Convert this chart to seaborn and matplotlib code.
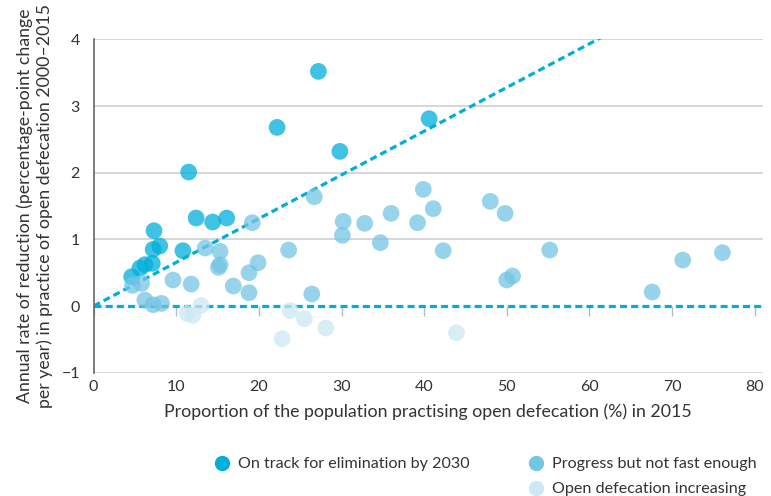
import pandas as pd
import matplotlib.pyplot as plt
import seaborn as sns
from matplotlib.lines import Line2D

# Punkte je Kategorie (x = Anteil 2015 in %, y = jährliche Reduktionsrate)
on_track_x = [27.2, 22.2, 29.8, 40.6, 11.5, 7.3, 8.0, 7.2, 10.8, 12.4, 14.4, 16.1, 7.1, 6.2, 5.6, 4.6]
on_track_y = [3.52, 2.68, 2.32, 2.81, 2.01, 1.13, 0.90, 0.85, 0.83, 1.32, 1.26, 1.32, 0.64, 0.62, 0.57, 0.44]

progress_x = [19.2, 13.5, 15.3, 15.1, 15.3, 19.9, 18.8, 16.9, 18.8, 9.6, 11.8, 5.8, 4.7, 6.2, 7.2, 8.2,
              23.6, 26.7, 26.4, 30.2, 30.1, 32.8, 34.7, 36.0, 39.2, 39.9, 41.1, 42.3, 48.0, 49.8,
              50.0, 50.7, 55.2, 67.6, 71.3, 76.1]
progress_y = [1.25, 0.87, 0.82, 0.58, 0.62, 0.65, 0.50, 0.30, 0.20, 0.39, 0.33, 0.34, 0.31, 0.09, 0.02, 0.04,
              0.84, 1.64, 0.18, 1.27, 1.06, 1.24, 0.95, 1.39, 1.25, 1.75, 1.46, 0.83, 1.57, 1.39,
              0.39, 0.45, 0.84, 0.21, 0.69, 0.80]

increasing_x = [11.3, 12.0, 13.0, 23.8, 25.5, 28.1, 22.8, 43.9]
increasing_y = [-0.11, -0.14, 0.01, -0.07, -0.19, -0.33, -0.49, -0.40]

labels = ['On track for elimination by 2030', 'Progress but not fast enough', 'Open defecation increasing']
colors = ['#00AEDB', '#74C5E3', '#CDE8F3']
x_ticks = [0, 10, 20, 30, 40, 50, 60, 70, 80]
y_ticks = [-1, 0, 1, 2, 3, 4]

df = pd.concat([
    pd.DataFrame({'x': on_track_x, 'y': on_track_y, 'group': labels[0]}),
    pd.DataFrame({'x': progress_x, 'y': progress_y, 'group': labels[1]}),
    pd.DataFrame({'x': increasing_x, 'y': increasing_y, 'group': labels[2]}),
])

sns.set_style('white')
plt.rcParams['font.family'] = ['Lato', 'DejaVu Sans']
TXT = '#333333'

fig = plt.figure(figsize=(7.71, 4.96), dpi=100)
ax = fig.add_axes([0.1215, 0.2486, 0.868, 0.672])

# Gitterlinien
for yv in y_ticks:
    if yv != 0:
        ax.axhline(yv, color='#d0d0d0', lw=1.2, zorder=0)

# Ziellinie (Elimination bis 2030) und Nulllinie
line_x = [0, 61.5]
ax.plot(line_x, [v / 15.25 for v in line_x], color='#00AEDB', lw=2.3, dashes=(2.2, 1.3), zorder=1)
ax.plot([0, 81], [0, 0], color='#00AEDB', lw=2.3, dashes=(2.2, 1.3), zorder=1)

sns.scatterplot(data=df, x='x', y='y', hue='group', palette=dict(zip(labels, colors)),
                s=145, alpha=0.75, linewidth=0, legend=False, ax=ax, zorder=3)

ax.set_xlim(0, 81)
ax.set_ylim(-1, 4)
ax.set_xticks(x_ticks)
ax.set_yticks(y_ticks)
ax.tick_params(axis='x', length=0, pad=5, labelsize=11.5, labelcolor=TXT)
ax.tick_params(axis='y', length=5, width=1, color='#666666', pad=5, labelsize=11.5, labelcolor=TXT)
for s in ['top', 'right', 'bottom']:
    ax.spines[s].set_visible(False)
ax.spines['left'].set_color('#666666')
ax.spines['left'].set_linewidth(1.2)

# Tickmarken auf der Nulllinie
sec = ax.secondary_xaxis(0.2)
sec.set_xticks(x_ticks)
sec.tick_params(axis='x', length=7, width=1, color='#bbbbbb', labelbottom=False, direction='out')
sec.spines['bottom'].set_visible(False)

ax.set_xlabel('Proportion of the population practising open defecation (%) in 2015',
              fontsize=12.8, color=TXT, labelpad=7)
ax.set_ylabel('Annual rate of reduction (percentage-point change\nper year) in practice of open defecation 2000\u20132015',
              fontsize=12.8, color=TXT, labelpad=6, linespacing=1.25)

handles = [Line2D([], [], marker='o', ls='', ms=11, mfc=c, mec='none') for c in colors]
blank = Line2D([], [], ls='', marker='')
fig.legend([handles[0], blank, handles[1], handles[2]], [labels[0], '', labels[1], labels[2]],
           ncol=2, loc='lower right', bbox_to_anchor=(1.0, -0.03), frameon=False,
           fontsize=11.6, labelcolor=TXT, handletextpad=0.5, columnspacing=3.6,
           labelspacing=0.68, handlelength=1.0)

plt.savefig('out.png', dpi=100)
